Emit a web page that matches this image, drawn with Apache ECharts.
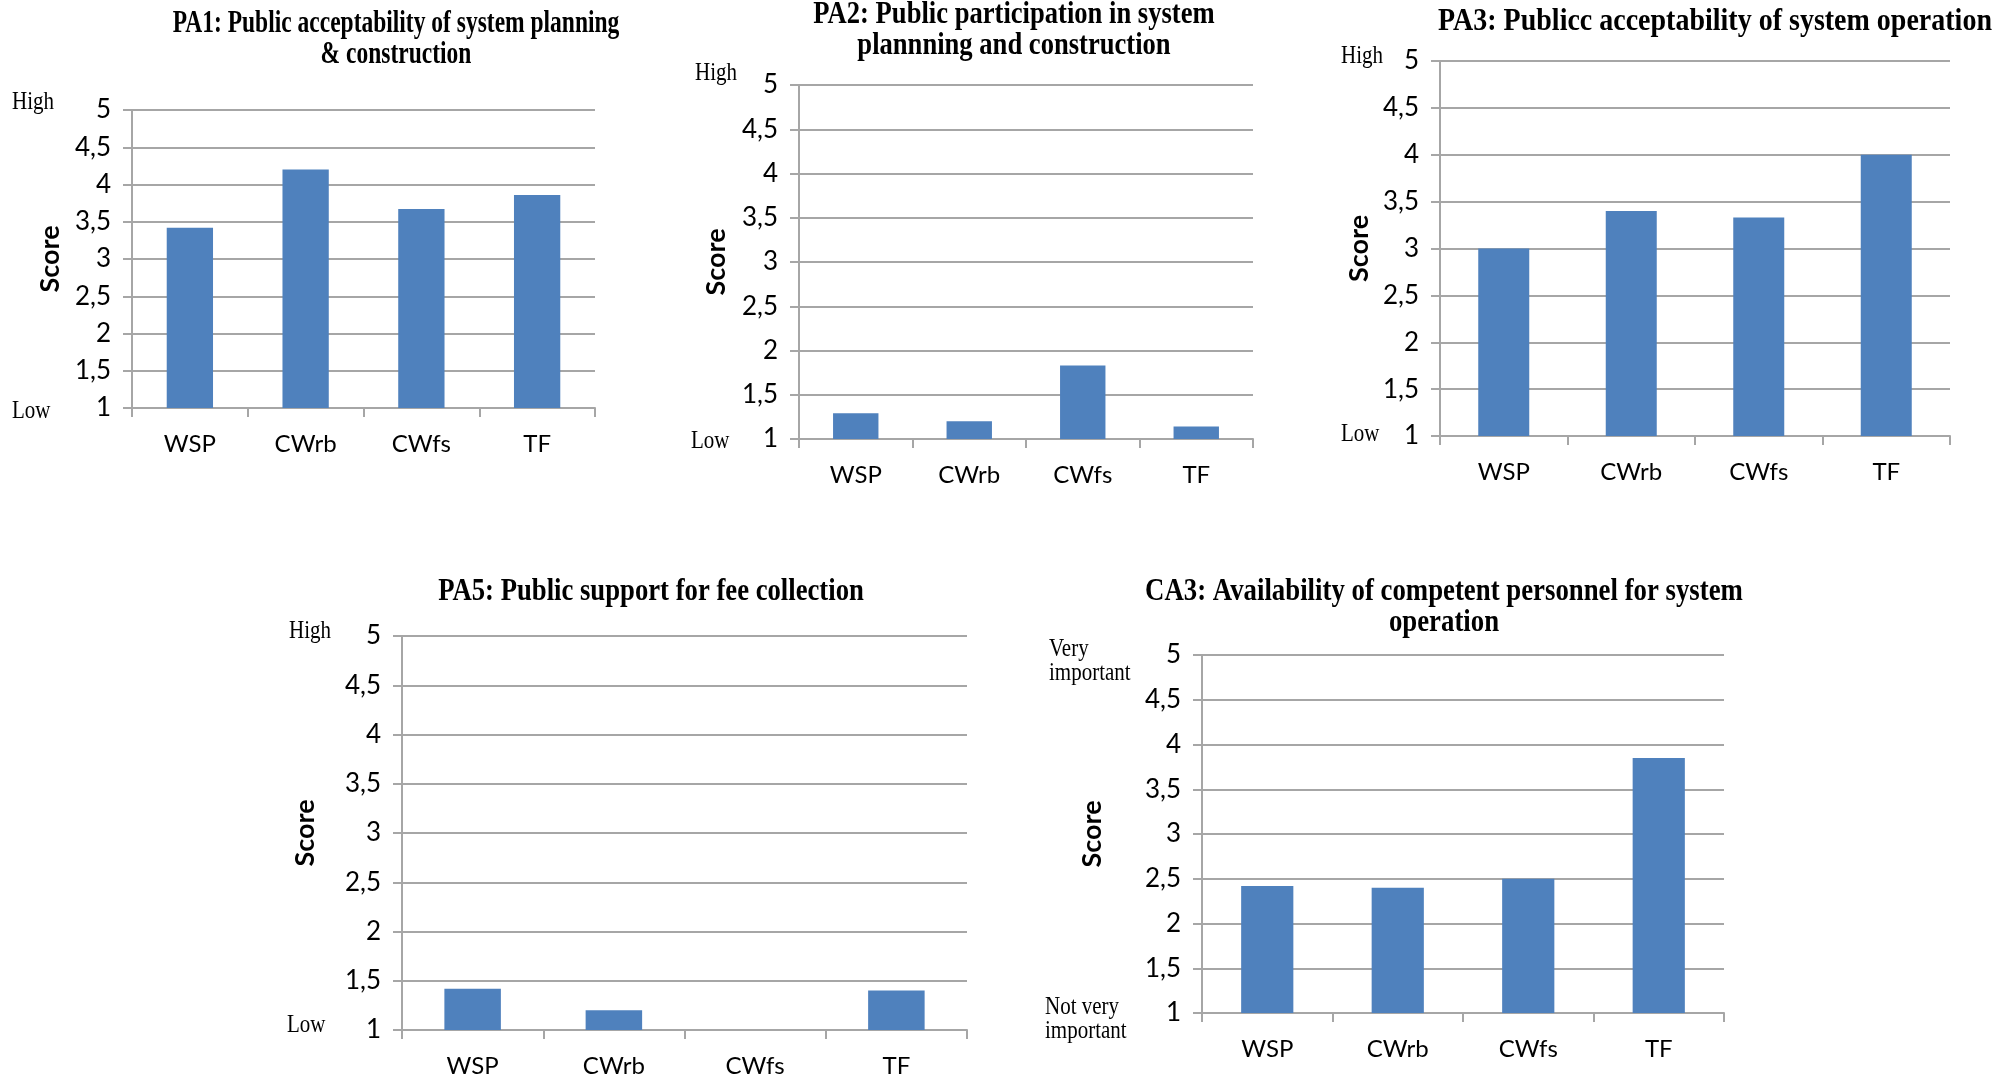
<!DOCTYPE html>
<html>
<head>
<meta charset="utf-8">
<script src="https://cdn.jsdelivr.net/npm/echarts@6/dist/echarts.min.js"></script>
<style>html,body{margin:0;padding:0;background:#fff}#c{width:1995px;height:1078px}</style>
</head>
<body>
<div id="c"></div>
<script>
// ---- data ----
const categories = ['WSP', 'CWrb', 'CWfs', 'TF'];
const pa1Values = [3.42, 4.2, 3.67, 3.86];
const pa2Values = [1.29, 1.2, 1.83, 1.14];
const pa3Values = [3.0, 3.4, 3.33, 4.0];
const pa5Values = [1.42, 1.2, null, 1.4];
const ca3Values = [2.42, 2.4, 2.5, 3.85];
const titles = [
  'PA1: Public acceptability of system planning\n& construction',
  'PA2: Public participation in system\nplannning and construction',
  'PA3: Publicc acceptability of system operation',
  'PA5: Public support for fee collection',
  'CA3: Availability of competent personnel for system\noperation'
];
const highLabels = ['High', 'High', 'High', 'High', 'Very\nimportant'];
const lowLabels = ['Low', 'Low', 'Low', 'Low', 'Not very\nimportant'];
const yAxisName = 'Score';
const yMin = 1, yMax = 5, yStep = 0.5;

// ---- layout ----
const W = 1995, H = 1078;
const panels = [
  {vals: pa1Values, l: 132, r: 595, t: 110, b: 408, tx: 396, ty: 8,  tf: 23.5, nameGap: 68, hx: 12,   hy: 102, lx: 12,   ly: 411},
  {vals: pa2Values, l: 799, r: 1253, t: 85, b: 439, tx: 1014, ty: -1, tf: 26.6, nameGap: 69, hx: 695,  hy: 73,  lx: 691,  ly: 441},
  {vals: pa3Values, l: 1440, r: 1950, t: 61, b: 436, tx: 1715, ty: 6, tf: 28, nameGap: 67, hx: 1341, hy: 56,  lx: 1341, ly: 434},
  {vals: pa5Values, l: 402, r: 967, t: 636, b: 1032, tx: 651, ty: 576, tf: 26.7, nameGap: 83, hx: 289,  hy: 631, lx: 287,  ly: 1025},
  {vals: ca3Values, l: 1202, r: 1724, t: 655, b: 1013, tx: 1444, ty: 576, tf: 26.8, nameGap: 96, hx: 1049, hy: 661, lx: 1045, ly: 1019}
];

const gridColor = '#a6a6a6';
const barColor = '#4f81bd';
const tickFont = 'Lato, "Open Sans", sans-serif';
const serif = '"Liberation Serif", "Times New Roman", serif';
const titleH = 31.2;

const option = {
  animation: false,
  backgroundColor: '#fff',
  grid: [], xAxis: [], yAxis: [], series: [], graphic: []
};

panels.forEach((p, i) => {
  option.graphic.push({
    type: 'text', x: p.tx, y: p.ty, scaleY: titleH / p.tf,
    style: {text: titles[i], fontFamily: serif, fontWeight: 'bold', fontSize: p.tf, lineHeight: p.tf,
      fill: '#000', textAlign: 'center', textVerticalAlign: 'top'}
  });
  option.grid.push({left: p.l, top: p.t, width: p.r - p.l, height: p.b - p.t, containLabel: false});
  option.xAxis.push({
    type: 'category', gridIndex: i, data: categories,
    axisLine: {lineStyle: {color: gridColor, width: 2}},
    axisTick: {show: true, length: 9, lineStyle: {color: gridColor, width: 2}},
    axisLabel: {color: '#000', fontFamily: tickFont, fontSize: 24, margin: 24}
  });
  option.yAxis.push({
    type: 'value', gridIndex: i, min: yMin, max: yMax, interval: yStep,
    name: yAxisName, nameLocation: 'middle', nameGap: p.nameGap, nameRotate: 90,
    nameTextStyle: {fontFamily: tickFont, fontWeight: 'bold', fontSize: 27, color: '#000'},
    axisLine: {show: true, lineStyle: {color: gridColor, width: 2}},
    axisTick: {show: true, length: 9, lineStyle: {color: gridColor, width: 2}},
    splitLine: {show: true, lineStyle: {color: gridColor, width: 2}},
    axisLabel: {color: '#000', fontFamily: tickFont, fontSize: 26, margin: 21,
      formatter: v => String(v).replace('.', ',')}
  });
  option.series.push({
    type: 'bar', xAxisIndex: i, yAxisIndex: i, data: p.vals,
    barWidth: '40%', itemStyle: {color: barColor}
  });
  const lab = {fontFamily: serif, fontSize: 21, fill: '#000', lineHeight: 20, textVerticalAlign: 'middle'};
  option.graphic.push({type: 'text', x: p.hx, y: p.hy, scaleY: 1.2, style: Object.assign({text: highLabels[i]}, lab)});
  option.graphic.push({type: 'text', x: p.lx, y: p.ly, scaleY: 1.2, style: Object.assign({text: lowLabels[i]}, lab)});
});

const chart = echarts.init(document.getElementById('c'), null, {renderer: 'canvas', width: W, height: H});
chart.setOption(option);
</script>
</body>
</html>
